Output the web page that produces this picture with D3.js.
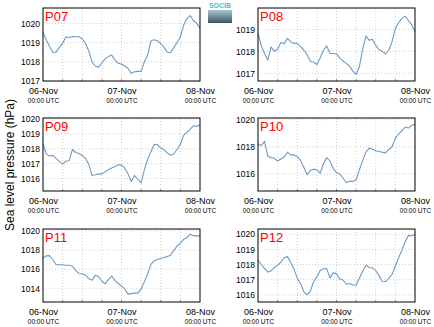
<!DOCTYPE html>
<html><head><meta charset="utf-8">
<script src="https://cdn.jsdelivr.net/npm/d3@7"></script>
<style>body{margin:0;background:#fff;}svg{display:block;font-family:"Liberation Sans",Arial,sans-serif;}</style>
</head><body><div id="chart"></div>
<script>
const stations = ["P07","P08","P09","P10","P11","P12"];
const hours = d3.range(0, 49); // hours since 06-Nov 00:00 UTC
const xTickLabels = ["06-Nov","07-Nov","08-Nov"];
const xTickSub = "00:00 UTC";
const yLabel = "Sea level pressure (hPa)";

const p07 = [1019.53,1019.15,1018.8,1018.5,1018.5,1018.75,1018.95,1019.3,1019.25,1019.32,1019.3,1019.3,1019.2,1018.95,1018.55,1018.0,1017.78,1017.72,1017.95,1018.15,1018.27,1018.35,1018.1,1017.92,1017.88,1017.78,1017.65,1017.4,1017.48,1017.5,1017.5,1018.0,1018.35,1019.1,1019.15,1019.1,1018.95,1018.75,1018.5,1018.47,1018.75,1019.0,1019.3,1019.9,1020.25,1020.4,1020.15,1020.0,1019.74];
const p08 = [1018.82,1018.25,1017.9,1017.6,1018.2,1018.0,1018.1,1018.4,1018.35,1018.59,1018.44,1018.36,1018.36,1018.21,1018.06,1017.85,1017.55,1017.5,1017.4,1017.7,1018.05,1018.25,1017.9,1017.9,1017.88,1017.7,1017.55,1017.45,1017.32,1017.1,1016.95,1017.3,1018.1,1018.7,1018.5,1018.55,1018.27,1018.07,1018.0,1017.88,1018.06,1018.45,1019.05,1019.3,1019.5,1019.6,1019.4,1019.2,1018.9];
const p09 = [1018.34,1017.64,1017.52,1017.55,1017.35,1017.15,1016.97,1017.17,1017.2,1017.95,1017.75,1017.68,1017.55,1017.35,1016.95,1016.2,1016.25,1016.31,1016.31,1016.45,1016.6,1016.7,1016.8,1016.92,1016.9,1016.7,1016.31,1015.8,1016.2,1015.95,1015.7,1016.6,1017.3,1017.8,1018.3,1018.28,1018.05,1017.95,1017.72,1017.57,1017.65,1017.97,1018.3,1018.9,1019.1,1019.3,1019.55,1019.5,1019.62];
const p10 = [1018.2,1018.08,1018.4,1017.3,1017.2,1017.15,1016.95,1017.1,1017.25,1017.6,1017.4,1017.4,1017.28,1017.0,1016.5,1015.95,1016.25,1016.35,1016.3,1016.05,1016.75,1017.2,1016.95,1016.4,1016.1,1016.0,1015.7,1015.35,1015.45,1015.45,1015.55,1016.3,1017.0,1017.6,1017.9,1017.82,1017.7,1017.65,1017.6,1017.55,1017.8,1018.0,1018.64,1018.94,1019.19,1019.45,1019.38,1019.6,1019.63];
const p11 = [1017.12,1017.38,1017.4,1017.0,1016.45,1016.45,1016.45,1016.4,1016.4,1016.3,1015.85,1015.55,1015.52,1015.38,1015.0,1014.85,1015.35,1015.2,1014.74,1014.46,1014.9,1015.28,1014.8,1014.5,1014.25,1013.95,1013.4,1013.45,1013.5,1013.5,1013.95,1014.7,1015.5,1016.5,1016.87,1017.0,1017.1,1017.2,1017.3,1017.45,1017.95,1018.4,1018.7,1019.1,1019.28,1019.64,1019.46,1019.46,1019.46];
const p12 = [1018.31,1018.0,1017.75,1017.5,1017.58,1017.8,1017.96,1018.15,1018.45,1018.52,1018.13,1017.7,1017.1,1016.75,1016.22,1016.0,1016.25,1016.85,1017.2,1017.6,1017.72,1017.73,1017.12,1017.45,1017.4,1017.05,1016.98,1016.7,1016.75,1016.65,1016.63,1017.1,1017.55,1017.95,1017.8,1017.78,1017.6,1017.25,1016.9,1016.88,1017.1,1017.35,1017.9,1018.45,1018.95,1019.5,1019.92,1019.9,1020.0];

const yDomains = [[1017,1020.8],[1016.65,1019.97],[1015.16,1020.07],[1014.74,1020.12],[1012.58,1020.17],[1015.53,1020.34]];
const yTicks = [[1017,1018,1019,1020],[1017,1018,1019],[1016,1017,1018,1019,1020],[1016,1018,1020],[1014,1016,1018,1020],[1016,1017,1018,1019,1020]];
const series = [p07,p08,p09,p10,p11,p12];

const W = 434, H = 327;
const colX = [43, 258], pw = 157;
const rowY = [8, 118, 229], ph = 73;

const svg = d3.select("#chart").append("svg").attr("width", W).attr("height", H);
const defs = svg.append("defs");
const g0 = defs.append("linearGradient").attr("id","logo").attr("x1",0).attr("y1",0).attr("x2",0).attr("y2",1);
g0.append("stop").attr("offset","0%").attr("stop-color","#a9c6cf");
g0.append("stop").attr("offset","100%").attr("stop-color","#3c5563");

stations.forEach((name, i) => {
  const ox = colX[i % 2], oy = rowY[Math.floor(i / 2)];
  const g = svg.append("g").attr("transform", `translate(${ox},${oy})`);
  const x = d3.scaleLinear().domain([0, 48]).range([0, pw]);
  const y = d3.scaleLinear().domain(yDomains[i]).range([ph, 0]);

  // grid
  g.append("g").selectAll("line").data(d3.range(6, 48, 6)).join("line")
    .attr("x1", d => x(d)).attr("x2", d => x(d)).attr("y1", 0).attr("y2", ph)
    .attr("stroke", "#c4c4c4").attr("stroke-width", 0.8).attr("stroke-dasharray", "1,2");
  g.append("g").selectAll("line").data(yTicks[i]).join("line")
    .attr("x1", 0).attr("x2", pw).attr("y1", d => y(d)).attr("y2", d => y(d))
    .attr("stroke", "#c4c4c4").attr("stroke-width", 0.8).attr("stroke-dasharray", "1,2");

  // y axis labels
  const ya = d3.axisLeft(y).tickValues(yTicks[i]).tickFormat(d3.format("d")).tickSize(0).tickPadding(3);
  const yg = g.append("g").call(ya);
  yg.select(".domain").remove();
  yg.selectAll("text").attr("font-size", 8.5).attr("fill", "#000").attr("font-family", "Liberation Sans, Arial, sans-serif");

  // x axis labels
  const xa = d3.axisBottom(x).tickValues([0, 24, 48]).tickFormat((d, k) => xTickLabels[k]).tickSize(0).tickPadding(6.5);
  const xg = g.append("g").attr("transform", `translate(0,${ph})`).call(xa);
  xg.select(".domain").remove();
  xg.selectAll("text").attr("font-size", 9).attr("fill", "#000").attr("font-family", "Liberation Sans, Arial, sans-serif");
  xg.selectAll(".tick").append("text").text(xTickSub)
    .attr("y", 21.5).attr("text-anchor", "middle").attr("font-size", 6.5).attr("fill", "#000")
    .attr("font-family", "Liberation Sans, Arial, sans-serif");

  // small inward ticks
  g.append("g").selectAll("line").data(d3.range(6, 48, 6)).join("line")
    .attr("x1", d => x(d)).attr("x2", d => x(d)).attr("y1", ph).attr("y2", ph - 2)
    .attr("stroke", "#444").attr("stroke-width", 0.6);

  // line
  const line = d3.line().x((d, k) => x(hours[k])).y(d => y(d)).curve(d3.curveLinear);
  g.append("path").datum(series[i]).attr("d", line)
    .attr("fill", "none").attr("stroke", "#6c9bc5").attr("stroke-width", 1.1).attr("stroke-linejoin", "round");

  // frame
  g.append("rect").attr("x", 0).attr("y", 0).attr("width", pw).attr("height", ph)
    .attr("fill", "none").attr("stroke", "#000").attr("stroke-width", 1);

  // title
  g.append("text").text(name).attr("x", 2).attr("y", 12.5).attr("fill", "#ff0000")
    .attr("font-size", 13).attr("font-family", "Liberation Sans, Arial, sans-serif");
});

// y label
svg.append("text").text(yLabel).attr("transform", "translate(14,165) rotate(-90)")
  .attr("text-anchor", "middle").attr("font-size", 12).attr("fill", "#000");

// logo
svg.append("rect").attr("x", 208).attr("y", 10).attr("width", 24).attr("height", 13).attr("fill", "url(#logo)");
svg.append("text").text("SOCIB").attr("x", 220).attr("y", 8).attr("text-anchor", "middle")
  .attr("font-size", 7).attr("fill", "#3cc3d6").attr("font-weight", "bold");
</script></body></html>
